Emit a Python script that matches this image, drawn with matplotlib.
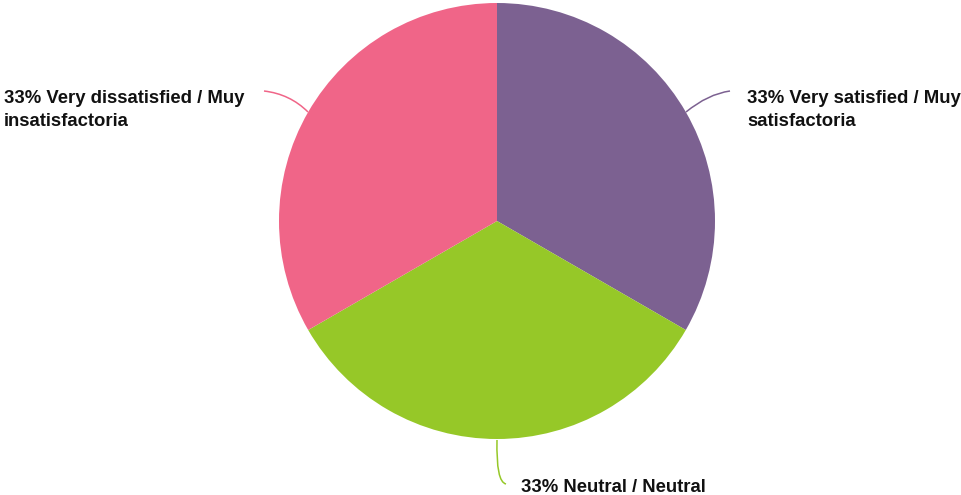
import matplotlib
matplotlib.use("Agg")
import matplotlib.pyplot as plt
from matplotlib.path import Path
from matplotlib.patches import PathPatch

# Data
labels = ["Very satisfied / Muy\nsatisfactoria", "Neutral / Neutral", "Very dissatisfied / Muy\ninsatisfactoria"]
values = [33, 33, 33]
colors = ["#7c6191", "#96c828", "#f06588"]

W, H = 961, 495
fig = plt.figure(figsize=(W / 100, H / 100), dpi=100)
ax = fig.add_axes([0, 0, 1, 1])

cx, cy, r = 497, H - 221, 218
ax.pie(values, colors=colors, startangle=90, counterclock=False,
       center=(cx, cy), radius=r, frame=True,
       wedgeprops=dict(linewidth=0))
ax.set_xlim(0, W)
ax.set_ylim(0, H)
ax.set_aspect("equal")
ax.axis("off")

font = dict(family=["Liberation Sans", "DejaVu Sans"], fontsize=13.3, fontweight="bold",
            color="#111111", linespacing=1.45)

def leader(p0, p1, p2, color):
    path = Path([p0, p1, p2], [Path.MOVETO, Path.CURVE3, Path.CURVE3])
    ax.add_patch(PathPatch(path, facecolor="none", edgecolor=color, lw=1.1))

# leader lines (y from top converted)
leader((686, H - 112), (708, H - 94), (730, H - 91), colors[0])
leader((497, H - 440), (496, H - 482), (506, H - 484), colors[1])
leader((308, H - 112), (290, H - 94), (264, H - 91), colors[2])

ax.text(747, H - 110, f"{values[0]}% {labels[0]}", ha="left", va="center", **font)
ax.text(521, H - 488, f"{values[1]}% {labels[1]}", ha="left", va="center", **font)
ax.text(4, H - 110, f"{values[2]}% {labels[2]}", ha="left", va="center", **font)

fig.savefig("out.png", dpi=100)
